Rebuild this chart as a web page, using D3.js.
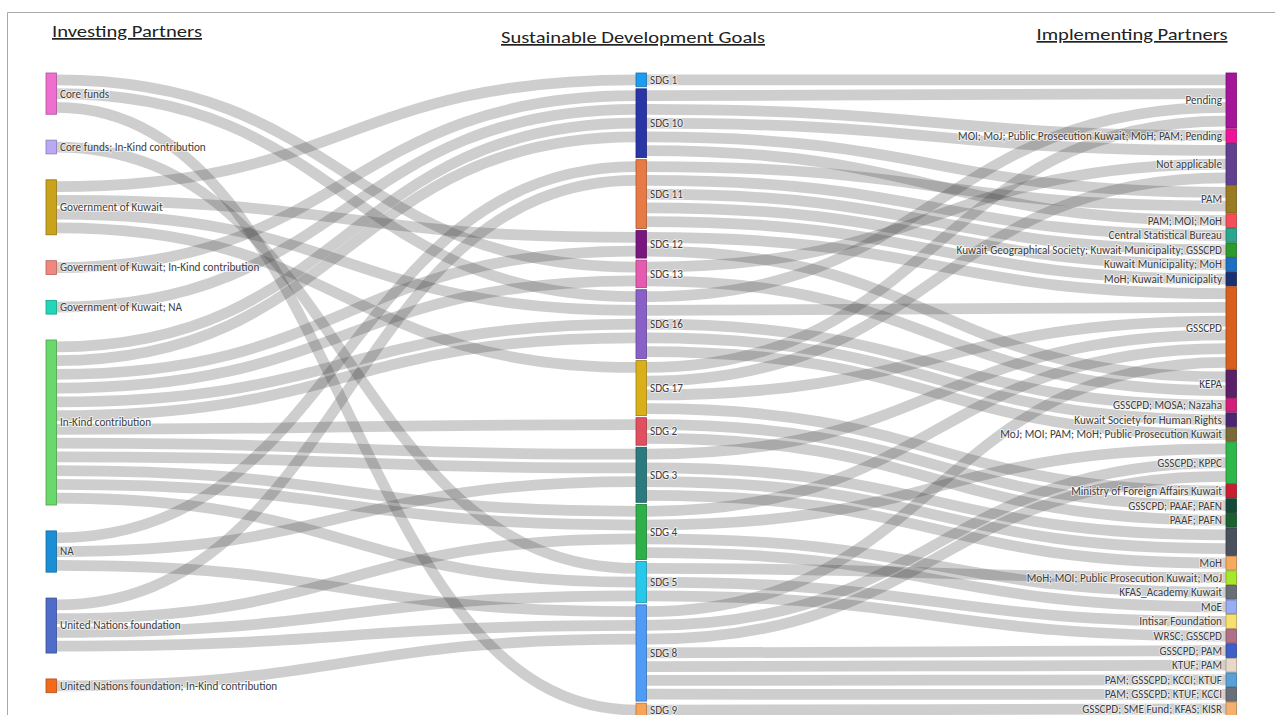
<!DOCTYPE html>
<html>
<head>
<meta charset="utf-8">
<script src="https://cdn.jsdelivr.net/npm/d3@7"></script>
<style>
  body { margin: 0; background: #fff; }
  svg { display: block; }
  .lbl { font-family: Carlito, Calibri, "Liberation Sans", Arial, sans-serif; font-size: 11.2px; fill: #3d3d3d;
         stroke: #fff; stroke-width: 2px; stroke-opacity: 0.6; paint-order: stroke; }
  .ttl { font-family: Carlito, Calibri, "Liberation Sans", Arial, sans-serif; font-size: 17px; fill: #222;
         text-decoration: underline; }
</style>
</head>
<body>
<script>
// nodes, column by column, top to bottom
var investors = ["Core funds", "Core funds; In-Kind contribution", "Government of Kuwait",
    "Government of Kuwait; In-Kind contribution", "Government of Kuwait; NA", "In-Kind contribution",
    "NA", "United Nations foundation", "United Nations foundation; In-Kind contribution"];
var investorColors = ["#ee6fcf", "#b9a8f5", "#c9a31b", "#f2877f", "#20d8b8", "#6ad96c", "#1b8fd6", "#4e6cc8", "#f26a1b"];

var sdgs = ["SDG 1", "SDG 10", "SDG 11", "SDG 12", "SDG 13", "SDG 16", "SDG 17", "SDG 2", "SDG 3", "SDG 4", "SDG 5", "SDG 8", "SDG 9"];
var sdgColors = ["#1e9cf0", "#2a35a6", "#e87a45", "#7a1680", "#e65bb0", "#8860c8", "#d9b01a", "#e05060", "#2a7a7e", "#2db04a", "#28c8ea", "#4f9cf7", "#f5a45a"];

var implementers = ["Pending", "MOI; MoJ; Public Prosecution Kuwait; MoH; PAM; Pending", "Not applicable", "PAM",
    "PAM; MOI; MoH", "Central Statistical Bureau", "Kuwait Geographical Society; Kuwait Municipality; GSSCPD",
    "Kuwait Municipality; MoH", "MoH; Kuwait Municipality", "GSSCPD", "KEPA", "GSSCPD; MOSA; Nazaha",
    "Kuwait Society for Human Rights", "MoJ; MOI; PAM; MoH; Public Prosecution Kuwait", "GSSCPD; KPPC",
    "Ministry of Foreign Affairs Kuwait", "GSSCPD; PAAF; PAFN", "PAAF; PAFN", "", "MoH",
    "MoH; MOI; Public Prosecution Kuwait; MoJ", "KFAS_Academy Kuwait", "MoE", "Intisar Foundation",
    "WRSC; GSSCPD", "GSSCPD; PAM", "KTUF; PAM", "PAM; GSSCPD; KCCI; KTUF", "PAM; GSSCPD; KTUF; KCCI",
    "GSSCPD; SME Fund; KFAS; KISR"];
var implementerColors = ["#a4159a", "#f0149a", "#63408f", "#9a7a20", "#f54e58", "#2aa58e", "#2e9a2e", "#1d6fc0",
    "#1a3070", "#d85f1e", "#5a1f66", "#d41c7a", "#4a2672", "#7a6a38", "#2eb84a", "#c81e32", "#154a3a", "#1a6030",
    "#4a505c", "#f5aa60", "#a8e82a", "#6a6e78", "#98aef0", "#f8e070", "#b07088", "#3e5ec8", "#e8d8c8", "#5aa0d8",
    "#6a7078", "#f5b070"];

// one project = one unit link
var fundingLinks = [
    ["Core funds", "SDG 13"], ["Core funds", "SDG 16"], ["Core funds", "SDG 9"],
    ["Core funds; In-Kind contribution", "SDG 5"],
    ["Government of Kuwait", "SDG 1"], ["Government of Kuwait", "SDG 12"], ["Government of Kuwait", "SDG 16"], ["Government of Kuwait", "SDG 17"],
    ["Government of Kuwait; In-Kind contribution", "SDG 10"],
    ["Government of Kuwait; NA", "SDG 10"],
    ["In-Kind contribution", "SDG 10"], ["In-Kind contribution", "SDG 10"], ["In-Kind contribution", "SDG 12"],
    ["In-Kind contribution", "SDG 13"], ["In-Kind contribution", "SDG 16"], ["In-Kind contribution", "SDG 16"],
    ["In-Kind contribution", "SDG 2"], ["In-Kind contribution", "SDG 3"], ["In-Kind contribution", "SDG 3"],
    ["In-Kind contribution", "SDG 4"], ["In-Kind contribution", "SDG 4"], ["In-Kind contribution", "SDG 5"],
    ["NA", "SDG 11"], ["NA", "SDG 3"], ["NA", "SDG 8"],
    ["United Nations foundation", "SDG 11"], ["United Nations foundation", "SDG 4"], ["United Nations foundation", "SDG 5"], ["United Nations foundation", "SDG 8"],
    ["United Nations foundation; In-Kind contribution", "SDG 8"]
];

var implementingLinks = [
    ["SDG 1", "Pending"],
    ["SDG 10", "Pending"], ["SDG 10", "MOI; MoJ; Public Prosecution Kuwait; MoH; PAM; Pending"], ["SDG 10", "Not applicable"], ["SDG 10", "PAM"], ["SDG 10", "PAM; MOI; MoH"],
    ["SDG 11", "PAM"], ["SDG 11", "Central Statistical Bureau"], ["SDG 11", "Kuwait Geographical Society; Kuwait Municipality; GSSCPD"], ["SDG 11", "Kuwait Municipality; MoH"], ["SDG 11", "MoH; Kuwait Municipality"],
    ["SDG 12", "GSSCPD"], ["SDG 12", "KEPA"],
    ["SDG 13", "Not applicable"], ["SDG 13", "KEPA"],
    ["SDG 16", "Pending"], ["SDG 16", "GSSCPD"], ["SDG 16", "GSSCPD; MOSA; Nazaha"], ["SDG 16", "Kuwait Society for Human Rights"], ["SDG 16", "MoJ; MOI; PAM; MoH; Public Prosecution Kuwait"],
    ["SDG 17", "Pending"], ["SDG 17", "Not applicable"], ["SDG 17", "GSSCPD"], ["SDG 17", "Ministry of Foreign Affairs Kuwait"],
    ["SDG 2", "GSSCPD; PAAF; PAFN"], ["SDG 2", "PAAF; PAFN"],
    ["SDG 3", "GSSCPD"], ["SDG 3", ""], ["SDG 3", ""], ["SDG 3", "MoH"],
    ["SDG 4", "GSSCPD"], ["SDG 4", "GSSCPD; KPPC"], ["SDG 4", "KFAS_Academy Kuwait"], ["SDG 4", "MoE"],
    ["SDG 5", "MoH; MOI; Public Prosecution Kuwait; MoJ"], ["SDG 5", "Intisar Foundation"], ["SDG 5", "WRSC; GSSCPD"],
    ["SDG 8", "GSSCPD"], ["SDG 8", "GSSCPD; KPPC"], ["SDG 8", "GSSCPD; KPPC"], ["SDG 8", "GSSCPD; PAM"], ["SDG 8", "KTUF; PAM"],
    ["SDG 8", "PAM; GSSCPD; KCCI; KTUF"], ["SDG 8", "PAM; GSSCPD; KTUF; KCCI"],
    ["SDG 9", "GSSCPD; SME Fund; KFAS; KISR"]
];

var columnTitles = ["Investing Partners", "Sustainable Development Goals", "Implementing Partners"];

var W = 1275, H = 715;
var topY = 73, nodeW = 10.5;
var pads = [25.9, 2.1, 0.83];

var unit = d3.scaleLinear().domain([0, 1]).range([0, 13.75]);
var colX = d3.scalePoint().domain([0, 1, 2]).range([46, 1226]);

var svg = d3.select("body").append("svg")
    .attr("width", W)
    .attr("height", H);

// screenshot frame
svg.append("path")
    .attr("d", "M7.5," + H + "V12.5H" + W)
    .attr("fill", "none")
    .attr("stroke", "#a8a8a8");

// build graph
var nodes = [], byName = {};
[[investors, investorColors], [sdgs, sdgColors], [implementers, implementerColors]].forEach(function (c, col) {
    c[0].forEach(function (name, i) {
        var n = { name: name, col: col, color: c[1][i], sourceLinks: [], targetLinks: [] };
        nodes.push(n);
        byName[col + "|" + name] = n;
    });
});

var links = [];
fundingLinks.forEach(function (l) { links.push({ source: byName["0|" + l[0]], target: byName["1|" + l[1]], value: 1 }); });
implementingLinks.forEach(function (l) { links.push({ source: byName["1|" + l[0]], target: byName["2|" + l[1]], value: 1 }); });
links.forEach(function (l, i) {
    l.index = i;
    l.source.sourceLinks.push(l);
    l.target.targetLinks.push(l);
});

// node sizes and positions
var colY = [topY, topY, topY];
nodes.forEach(function (n) {
    n.value = Math.max(d3.sum(n.sourceLinks, d => d.value), d3.sum(n.targetLinks, d => d.value));
    n.x0 = colX(n.col);
    n.x1 = n.x0 + nodeW;
    n.y0 = colY[n.col];
    n.y1 = n.y0 + unit(n.value);
    colY[n.col] = n.y1 + pads[n.col];
});

// stack links at each node
nodes.forEach(function (n) {
    n.sourceLinks.sort((a, b) => (a.target.y0 - b.target.y0) || (a.index - b.index));
    n.targetLinks.sort((a, b) => (a.source.y0 - b.source.y0) || (a.index - b.index));
    var y = n.y0;
    n.sourceLinks.forEach(function (l) { l.y0 = y + unit(l.value) / 2; y += unit(l.value); });
    y = n.y0;
    n.targetLinks.forEach(function (l) { l.y1 = y + unit(l.value) / 2; y += unit(l.value); });
});

var linkPath = d3.linkHorizontal()
    .source(d => [d.source.x1, d.y0])
    .target(d => [d.target.x0, d.y1]);

svg.append("g")
    .selectAll("path")
    .data(links)
    .enter().append("path")
    .attr("d", linkPath)
    .attr("fill", "none")
    .attr("stroke", "rgba(60,60,60,0.25)")
    .attr("stroke-width", d => unit(d.value) - 3);

svg.append("g")
    .selectAll("rect")
    .data(nodes)
    .enter().append("rect")
    .attr("x", d => d.x0)
    .attr("y", d => d.y0)
    .attr("width", nodeW)
    .attr("height", d => d.y1 - d.y0)
    .attr("fill", d => d.color)
    .attr("stroke", d => d3.color(d.color).darker(0.9))
    .attr("stroke-width", 0.8);

svg.append("g")
    .selectAll("text")
    .data(nodes.filter(d => d.name !== ""))
    .enter().append("text")
    .attr("class", "lbl")
    .attr("x", d => d.col === 2 ? d.x0 - 4 : d.x1 + 3.5)
    .attr("y", d => (d.y0 + d.y1) / 2)
    .attr("dy", "0.35em")
    .attr("text-anchor", d => d.col === 2 ? "end" : "start")
    .text(d => d.name);

// column titles
var titleX = [127, 633, 1132], titleY = [37, 43, 40], titleLen = [150, 264, 191];
svg.append("g")
    .selectAll("text")
    .data(columnTitles)
    .enter().append("text")
    .attr("class", "ttl")
    .attr("x", (d, i) => titleX[i])
    .attr("y", (d, i) => titleY[i])
    .attr("text-anchor", "middle")
    .attr("textLength", (d, i) => titleLen[i])
    .attr("lengthAdjust", "spacingAndGlyphs")
    .text(d => d);
</script>
</body>
</html>
